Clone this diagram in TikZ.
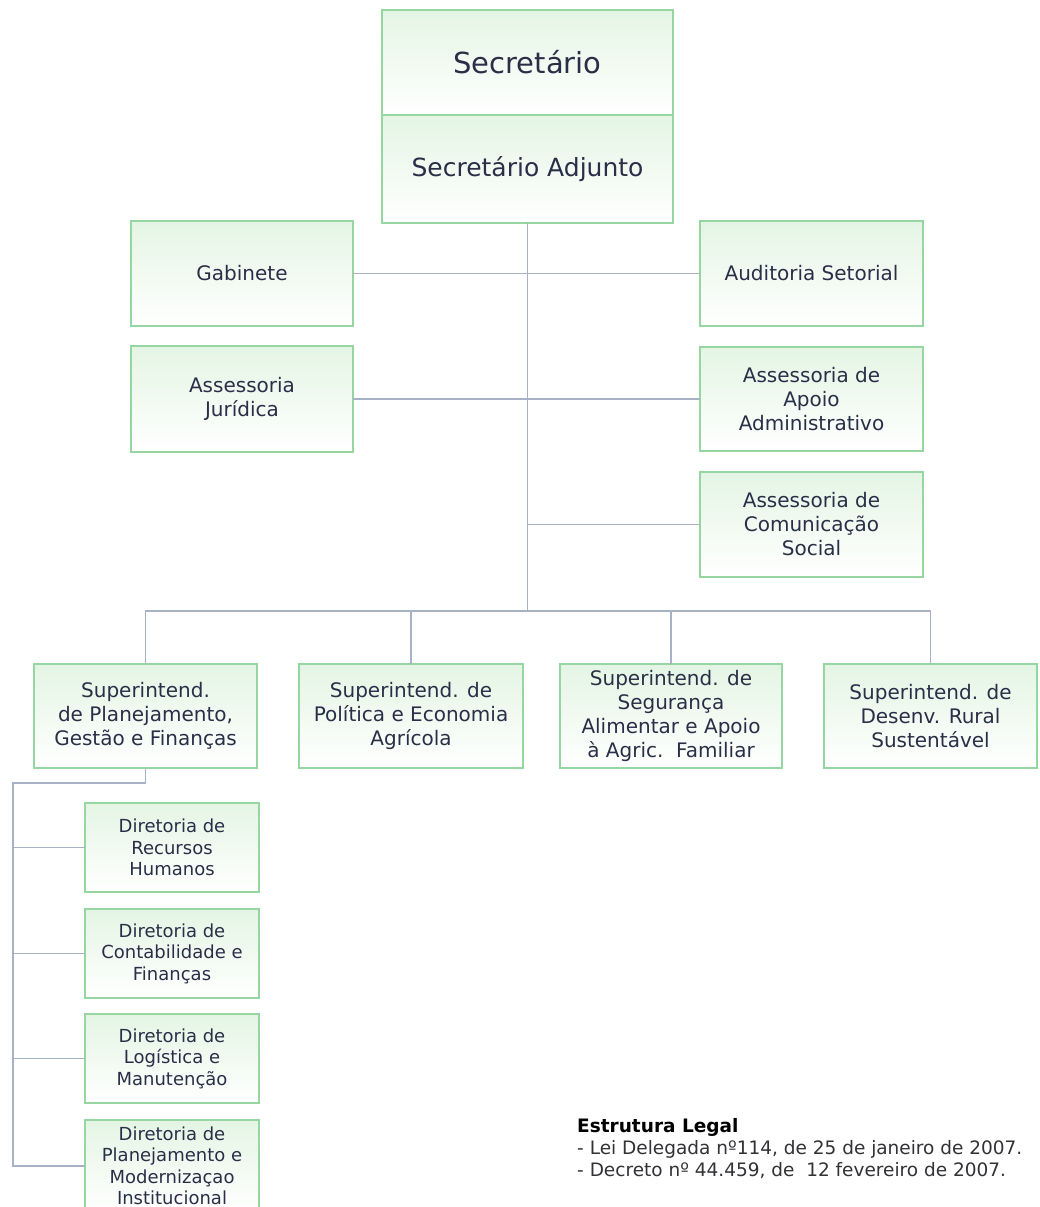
\documentclass[tikz,border=0pt]{standalone}
\usepackage{fontspec}
\setmainfont{DejaVu Sans}
\definecolor{boxgreen}{RGB}{150,214,160}
\definecolor{boxtop}{RGB}{228,245,228}
\definecolor{linec}{RGB}{168,178,198}
\definecolor{txt}{RGB}{42,47,72}
\definecolor{legal}{RGB}{50,50,55}
\begin{document}
\begin{tikzpicture}[x=1pt,y=-1pt,
  box/.style={draw=boxgreen, line width=1.8pt, top color=boxtop, bottom color=white,
    inner sep=2pt, outer sep=0pt, align=center, text=txt,
    font=\fontsize{20}{24}\selectfont},
  dbox/.style={box, minimum width=174pt, minimum height=89pt, font=\fontsize{18}{21.5}\selectfont},
  sbox/.style={box, minimum height=104pt},
  rbox/.style={box, minimum width=223pt, minimum height=105pt},
  conn/.style={draw=linec, line width=1.1pt},
  legaltxt/.style={anchor=base west, inner sep=0pt, text=legal, font=\fontsize{18.5}{22}\selectfont}]
\useasboundingbox[fill=white] (0,0) rectangle (1039,1207);

% top
\node[box, minimum width=291pt, minimum height=105pt, font=\fontsize{29}{34}\selectfont] (sec) at (527.5,62.5) {Secretário};
\node[box, minimum width=291pt, minimum height=108pt, font=\fontsize{25}{30}\selectfont] (adj) at (527.5,169) {Secretário Adjunto};

% staff
\node[box, minimum width=222pt, minimum height=105pt] (gab) at (242,273.5) {Gabinete};
\node[box, minimum width=222pt, minimum height=106pt] (jur) at (242,399) {Assessoria\\Jurídica};
\node[rbox] (aud) at (811.5,273.5) {Auditoria Setorial};
\node[rbox, minimum height=104pt] (apo) at (811.5,399) {Assessoria de\\Apoio\\Administrativo};
\node[rbox] (com) at (811.5,524.5) {Assessoria de\\Comunicação\\Social};

% superintendencies
\node[sbox, minimum width=223pt] (s1) at (145.5,716) {Superintend.\\de Planejamento,\\Gestão e Finanças};
\node[sbox, minimum width=224pt] (s2) at (411,716) {Superintend. de\\Política e Economia\\Agrícola};
\node[sbox, minimum width=222pt] (s3) at (671,716) {Superintend. de\\Segurança\\Alimentar e Apoio\\à Agric.\ \ Familiar};
\node[sbox, minimum width=213pt] (s4) at (930.5,716) {Superintend. de\\Desenv. Rural\\Sustentável};

% directorates
\node[dbox] (d1) at (172,847.5) {Diretoria de\\Recursos\\Humanos};
\node[dbox] (d2) at (172,953.5) {Diretoria de\\Contabilidade e\\Finanças};
\node[dbox] (d3) at (172,1058.5) {Diretoria de\\Logística e\\Manutenção};
\node[dbox, minimum height=92pt] (d4) at (172,1166) {Diretoria de\\Planejamento e\\Modernizaçao\\Institucional};

% connectors
\coordinate (bus) at (527.5,611);
\coordinate (sp) at (13,783);
\draw[conn] (adj.south) -- (bus);
\draw[conn] (gab.east) -- (aud.west);
\draw[conn] (jur.east) -- (apo.west);
\draw[conn] (com.west) -- (com.west -| bus);
\draw[conn] (s1.north) |- (bus) -| (s4.north);
\draw[conn] (s2.north) -- (s2.north |- bus);
\draw[conn] (s3.north) -- (s3.north |- bus);
\draw[conn] (s1.south) |- (sp) |- (d4.west);
\draw[conn] (d1.west) -- (d1.west -| sp);
\draw[conn] (d2.west) -- (d2.west -| sp);
\draw[conn] (d3.west) -- (d3.west -| sp);

% legal text
\node[legaltxt, text=black, font=\fontsize{18.5}{22}\selectfont\bfseries] (lg0) at (577,1132) {Estrutura Legal};
\node[legaltxt] (lg1) at (577,1154) {- Lei Delegada nº114, de 25 de janeiro de 2007.};
\node[legaltxt] (lg2) at (577,1176) {- Decreto nº 44.459, de\ \ 12 fevereiro de 2007.};
\end{tikzpicture}
\end{document}
